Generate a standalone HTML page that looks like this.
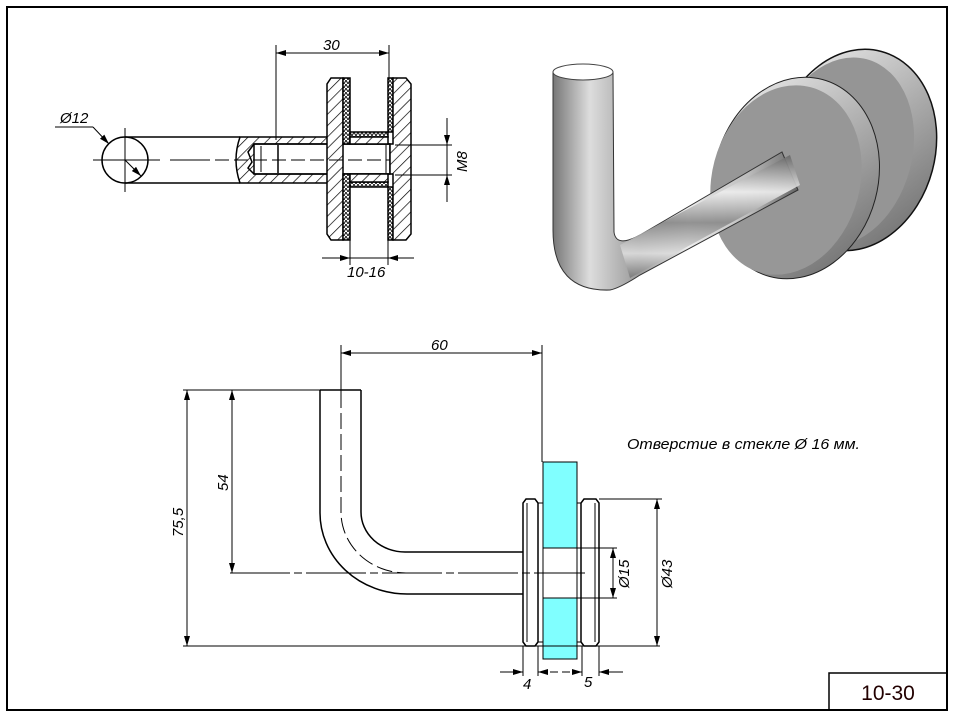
<!DOCTYPE html>
<html><head><meta charset="utf-8"><style>
html,body{margin:0;padding:0;background:#fff;}
svg{display:block;}
text{font-family:"Liberation Sans",sans-serif;}
</style></head><body>
<svg width="957" height="719" viewBox="0 0 957 719" xmlns="http://www.w3.org/2000/svg">
<defs>
<pattern id="h" patternUnits="userSpaceOnUse" width="8" height="8" patternTransform="rotate(45)">
<rect width="8" height="8" fill="#fff"/><line x1="0" y1="0" x2="0" y2="8" stroke="#000" stroke-width="1.4"/>
</pattern>
<pattern id="g" patternUnits="userSpaceOnUse" width="4" height="4">
<rect width="4" height="4" fill="#fff"/><path d="M0 4L2 0L4 4" fill="none" stroke="#000" stroke-width="0.9"/>
</pattern>
<marker id="a" markerWidth="10" markerHeight="6" refX="10" refY="3" orient="auto-start-reverse" markerUnits="userSpaceOnUse">
<path d="M0 0L10 3L0 6z" fill="#000"/></marker>
<linearGradient id="tv" x1="0" x2="1" y1="0" y2="0">
<stop offset="0" stop-color="#777"/><stop offset="0.15" stop-color="#ddd"/><stop offset="0.35" stop-color="#999"/><stop offset="0.55" stop-color="#eee"/><stop offset="0.8" stop-color="#bbb"/><stop offset="1" stop-color="#666"/></linearGradient>
<linearGradient id="ta" x1="0" x2="0" y1="0" y2="1">
<stop offset="0" stop-color="#666"/><stop offset="0.3" stop-color="#eee"/><stop offset="0.55" stop-color="#888"/><stop offset="0.8" stop-color="#ddd"/><stop offset="1" stop-color="#777"/></linearGradient>
<linearGradient id="rim" x1="0" x2="1" y1="0" y2="1">
<stop offset="0" stop-color="#f2f2f2"/><stop offset="0.5" stop-color="#aaa"/><stop offset="1" stop-color="#666"/></linearGradient>
</defs>

<rect x="7" y="7" width="940" height="703" fill="none" stroke="#000" stroke-width="2"/>
<rect x="829" y="673" width="118" height="37" fill="none" stroke="#000" stroke-width="1.5"/>
<text x="888" y="700" font-size="21" text-anchor="middle" fill="#200">10-30</text>

<g stroke="#000" fill="none" stroke-width="1.5">
<circle cx="125" cy="160" r="23"/>
<line x1="125" y1="128" x2="125" y2="192" stroke-width="1"/>
<line x1="93" y1="160" x2="160" y2="160" stroke-width="1"/>
<line x1="170" y1="160" x2="210" y2="160" stroke-width="1"/>
<line x1="125" y1="137" x2="240" y2="137"/>
<line x1="125" y1="183" x2="240" y2="183"/>
<path d="M240 137 L328 137 L328 183 L240 183 Q232 160 240 137Z" fill="url(#h)"/>
<rect x="254" y="144" width="136" height="30" fill="#fff"/>
<path d="M254 144 L390 144 M254 174 L390 174 M254 144 L248 152 L252 162 L248 168 L254 174" />
<line x1="261" y1="146" x2="261" y2="172" stroke-width="1"/>
<line x1="278" y1="145" x2="278" y2="173"/>
<line x1="386" y1="145" x2="386" y2="173" stroke-width="1"/>
<path d="M331 78 L343 78 L343 240 L331 240 L327 234 L327 84Z" fill="url(#h)"/>
<rect x="343" y="78" width="7" height="66" fill="url(#g)"/>
<rect x="343" y="174" width="7" height="66" fill="url(#g)"/>
<rect x="350" y="132" width="38" height="5" fill="url(#g)"/>
<rect x="350" y="137" width="38" height="7" fill="url(#h)"/>
<rect x="350" y="182" width="38" height="5" fill="url(#g)"/>
<rect x="350" y="174" width="38" height="8" fill="url(#h)"/>
<rect x="388" y="78" width="5" height="54" fill="url(#g)"/>
<rect x="388" y="187" width="5" height="53" fill="url(#g)"/>
<path d="M393 78 L406 78 L411 84 L411 234 L406 240 L393 240 L393 174 L390 174 L390 144 L393 144Z" fill="url(#h)"/>
<line x1="215" y1="160" x2="390" y2="160" stroke-width="1" stroke-dasharray="14,5"/>
<line x1="276" y1="45" x2="276" y2="140" stroke-width="1"/>
<line x1="389" y1="45" x2="389" y2="80" stroke-width="1"/>
<line x1="276" y1="53" x2="389" y2="53" stroke-width="1" marker-start="url(#a)" marker-end="url(#a)"/>
<line x1="395" y1="145" x2="452" y2="145" stroke-width="1"/>
<line x1="395" y1="175" x2="452" y2="175" stroke-width="1"/>
<line x1="447" y1="118" x2="447" y2="145" stroke-width="1" marker-end="url(#a)"/>
<line x1="447" y1="202" x2="447" y2="175" stroke-width="1" marker-end="url(#a)"/>
<line x1="447" y1="145" x2="447" y2="175" stroke-width="1"/>
<line x1="350" y1="240" x2="350" y2="265" stroke-width="1"/>
<line x1="388" y1="240" x2="388" y2="265" stroke-width="1"/>
<line x1="322" y1="258" x2="350" y2="258" stroke-width="1" marker-end="url(#a)"/>
<line x1="414" y1="258" x2="388" y2="258" stroke-width="1" marker-end="url(#a)"/>
<line x1="350" y1="258" x2="388" y2="258" stroke-width="1"/>
<line x1="55" y1="127" x2="93" y2="127" stroke-width="1"/>
<line x1="93" y1="127" x2="109" y2="144" stroke-width="1" marker-end="url(#a)"/>
<line x1="141" y1="176" x2="125" y2="160" stroke-width="1" marker-start="url(#a)"/>
</g>
<g font-size="15" font-style="italic">
<text x="323" y="50">30</text>
<text x="60" y="123">Ø12</text>
<text x="347" y="277">10-16</text>
<text transform="translate(467,172) rotate(-90)">M8</text>
</g>

<g>
<ellipse cx="855" cy="150" rx="80" ry="102" transform="rotate(15 855 150)" fill="url(#rim)" stroke="#111" stroke-width="1.5"/>
<ellipse cx="842" cy="152" rx="70" ry="96" transform="rotate(15 842 152)" fill="#959595"/>
<ellipse cx="796" cy="178" rx="82" ry="102" transform="rotate(15 796 178)" fill="url(#rim)" stroke="#222" stroke-width="1"/>
<ellipse cx="786" cy="180" rx="74" ry="96" transform="rotate(15 786 180)" fill="#979797"/>
<path d="M553 72 L553 230 Q553 292 610 290 Q620 288 640 275 L798 190 L782 152 L640 235 Q616 248 614 232 L613 72Z" fill="url(#tv)" stroke="#333" stroke-width="1"/>
<path d="M620 245 L790 155 L800 185 L630 278Z" fill="url(#ta)" opacity="0.9"/>
<ellipse cx="583" cy="72" rx="30" ry="8" fill="#fff" stroke="#444"/>
</g>

<g stroke="#000" fill="none" stroke-width="1.5">
<path d="M320 390 L361 390 M320 390 L320 513 A87 81 0 0 0 407 594 L523 594 M361 390 L361 512 A44 40 0 0 0 405 552 L523 552"/>
<path d="M341 392 L341 512 A65 61 0 0 0 406 573" stroke-width="1" stroke-dasharray="16,5"/>
<path d="M526 499 L535 499 L538 503 L538 642 L535 646 L526 646 L523 642 L523 503Z" fill="#fff"/>
<line x1="527" y1="503" x2="527" y2="642" stroke-width="1"/>
<rect x="543" y="462" width="34" height="197" fill="#80ffff" stroke-width="1"/>
<rect x="543" y="548" width="34" height="50" fill="#fff" stroke-width="1"/>
<path d="M538 503 L543 503 M538 642 L543 642 M577 503 L581 503 M577 642 L581 642" stroke-width="1"/>
<path d="M584 499 L596 499 L599 503 L599 642 L596 646 L584 646 L581 642 L581 503Z" fill="#fff"/>
<line x1="595" y1="503" x2="595" y2="642" stroke-width="1"/>
<line x1="230" y1="573" x2="585" y2="573" stroke-width="1" stroke-dasharray="60,4,8,4"/>
<line x1="341" y1="345" x2="341" y2="392" stroke-width="1"/>
<line x1="542" y1="345" x2="542" y2="462" stroke-width="1"/>
<line x1="341" y1="353" x2="542" y2="353" stroke-width="1" marker-start="url(#a)" marker-end="url(#a)"/>
<line x1="183" y1="390" x2="320" y2="390" stroke-width="1"/>
<line x1="183" y1="646" x2="660" y2="646" stroke-width="1"/>
<line x1="187" y1="390" x2="187" y2="646" stroke-width="1" marker-start="url(#a)" marker-end="url(#a)"/>
<line x1="232" y1="390" x2="232" y2="573" stroke-width="1" marker-start="url(#a)" marker-end="url(#a)"/>
<line x1="577" y1="548" x2="617" y2="548" stroke-width="1"/>
<line x1="577" y1="598" x2="617" y2="598" stroke-width="1"/>
<line x1="613" y1="548" x2="613" y2="598" stroke-width="1" marker-start="url(#a)" marker-end="url(#a)"/>
<line x1="599" y1="499" x2="662" y2="499" stroke-width="1"/>
<line x1="657" y1="499" x2="657" y2="646" stroke-width="1" marker-start="url(#a)" marker-end="url(#a)"/>
<line x1="523" y1="646" x2="523" y2="676" stroke-width="1"/>
<line x1="538" y1="646" x2="538" y2="676" stroke-width="1"/>
<line x1="582" y1="646" x2="582" y2="676" stroke-width="1"/>
<line x1="599" y1="646" x2="599" y2="676" stroke-width="1"/>
<line x1="500" y1="672" x2="523" y2="672" stroke-width="1" marker-end="url(#a)"/>
<line x1="538" y1="672" x2="582" y2="672" stroke-width="1" marker-start="url(#a)" marker-end="url(#a)" stroke-dasharray="8,4"/>
<line x1="623" y1="672" x2="599" y2="672" stroke-width="1" marker-end="url(#a)"/>
</g>
<g font-size="15" font-style="italic">
<text x="431" y="350">60</text>
<text transform="translate(183,537) rotate(-90)">75,5</text>
<text transform="translate(228,491) rotate(-90)">54</text>
<text transform="translate(629,588) rotate(-90)">Ø15</text>
<text transform="translate(672,588) rotate(-90)">Ø43</text>
<text x="523" y="689">4</text>
<text x="584" y="687">5</text>
<text x="627" y="449" font-size="14.3" textLength="233" lengthAdjust="spacingAndGlyphs">Отверстие в стекле Ø 16 мм.</text>
</g>
</svg>
</body></html>
